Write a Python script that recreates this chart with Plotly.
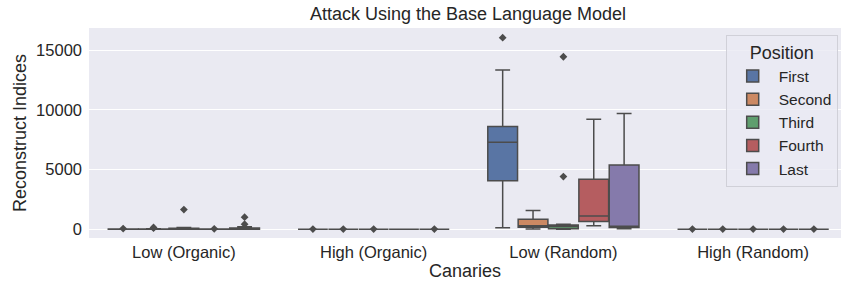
import plotly.graph_objects as go

categories = ["Low (Organic)", "High (Organic)", "Low (Random)", "High (Random)"]
positions = ["First", "Second", "Third", "Fourth", "Last"]
colors = ["#5975a4", "#cc8963", "#5f9e6e", "#b55d60", "#857aab"]
y_tick_vals = [0, 5000, 10000, 15000]
y_tick_text = ["0", "5000", "10000", "15000"]

# per position: values for each category
q1 = {
    "First":  [0, 0, 4070, 0],
    "Second": [0, 0, 170, 0],
    "Third":  [0, 0, 40, 0],
    "Fourth": [0, 0, 640, 0],
    "Last":   [0, 0, 150, 0],
}
median = {
    "First":  [3, 0, 7290, 0],
    "Second": [5, 0, 280, 0],
    "Third":  [10, 0, 220, 0],
    "Fourth": [3, 0, 1115, 0],
    "Last":   [10, 0, 250, 0],
}
q3 = {
    "First":  [10, 0, 8600, 0],
    "Second": [20, 0, 840, 0],
    "Third":  [70, 0, 360, 0],
    "Fourth": [10, 0, 4190, 0],
    "Last":   [90, 0, 5390, 0],
}
lower = {
    "First":  [0, 0, 130, 0],
    "Second": [0, 0, 5, 0],
    "Third":  [0, 0, 0, 0],
    "Fourth": [0, 0, 280, 0],
    "Last":   [0, 0, 30, 0],
}
upper = {
    "First":  [20, 0, 13350, 0],
    "Second": [40, 0, 1560, 0],
    "Third":  [150, 0, 420, 0],
    "Fourth": [20, 0, 9220, 0],
    "Last":   [200, 0, 9690, 0],
}
# outliers: (category index, value)
outliers = {
    "First":  [(0, 50), (1, 8), (2, 16060), (3, 10)],
    "Second": [(0, 80), (0, 150), (1, 8), (3, 10)],
    "Third":  [(0, 1645), (1, 8), (2, 14460), (2, 4410), (3, 10)],
    "Fourth": [(0, 30), (3, 10)],
    "Last":   [(0, 420), (0, 1005), (1, 8), (3, 10)],
}

edge = "#4c4c4c"
n = len(positions)
group_width = 0.8
box_w = group_width / n * 0.98

fig = go.Figure()
for h, p in enumerate(positions):
    off = -group_width / 2 + group_width / n * (h + 0.5)
    xs = [i + off for i in range(len(categories))]
    fig.add_trace(go.Box(
        x=xs, q1=q1[p], median=median[p], q3=q3[p],
        lowerfence=lower[p], upperfence=upper[p],
        name=p, width=box_w, fillcolor=colors[h],
        line=dict(color=edge, width=1.5), whiskerwidth=0.5,
        boxpoints=False, legendgroup=p, hoverinfo="skip",
    ))
    ox = [o[0] + off for o in outliers[p]]
    oy = [o[1] for o in outliers[p]]
    fig.add_trace(go.Scatter(
        x=ox, y=oy, mode="markers", showlegend=False, legendgroup=p,
        marker=dict(symbol="diamond", size=6, color=edge), hoverinfo="skip",
    ))

W, H = 841, 284
font = "Liberation Sans, Arial, sans-serif"
fig.update_layout(
    width=W, height=H,
    margin=dict(l=89, r=0, t=28, b=46),
    paper_bgcolor="white", plot_bgcolor="#eaeaf2",
    font=dict(family=font, color="#262626", size=16),
    boxmode="overlay",
    title=dict(text="Attack Using the Base Language Model", x=468 / W, xref="container",
               xanchor="center", y=1 - 13.5 / H, yref="container", yanchor="middle",
               font=dict(size=18, color="#262626")),
    xaxis=dict(range=[-0.5, 3.463], tickvals=list(range(len(categories))), ticktext=categories,
               showgrid=False, zeroline=False, ticks="", tickfont=dict(size=16.5),
               ticklabelstandoff=2,
               title=dict(text="Canaries", font=dict(size=18), standoff=4)),
    yaxis=dict(range=[-740, 16870], tickvals=y_tick_vals, ticktext=y_tick_text,
               gridcolor="white", gridwidth=1, zeroline=False, ticks="",
               tickfont=dict(size=16.5), ticklabelstandoff=6,
               title=dict(text="Reconstruct Indices", font=dict(size=18), standoff=4)),
    legend=dict(x=(725.7 - 89) / 752, y=(238 - 35) / 210, xanchor="left", yanchor="top",
                bgcolor="rgba(234,234,242,0.8)", bordercolor="#d0d0d8", borderwidth=1,
                font=dict(size=15.5), title=dict(text="Position", font=dict(size=18), side="top center"),
                itemwidth=42, entrywidth=70, tracegroupgap=0),
)

# remove the default 8px page margin so the figure sits at the window's top-left corner
fig.write_html("out.html", config={"displayModeBar": False},
               post_script="document.body.style.margin='0';")
